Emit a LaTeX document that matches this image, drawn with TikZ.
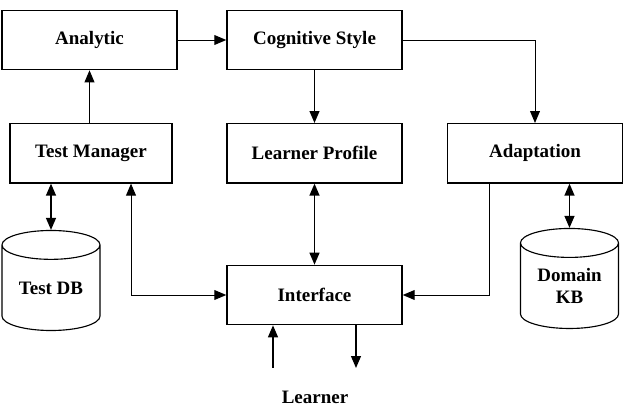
\documentclass[tikz,border=0pt]{standalone}
\usepackage{fontspec}
\setmainfont{Liberation Serif}
\usetikzlibrary{positioning}
\usetikzlibrary{arrows.meta}
\usetikzlibrary{shapes.geometric}

\begin{document}
\begin{tikzpicture}[x=0.025cm,y=-0.025cm,
    font=\bfseries\fontsize{13.5}{16}\selectfont,
    box/.style={draw,line width=1pt,minimum width=4.375cm,minimum height=1.48cm,inner sep=0pt},
    db/.style={draw,line width=0.8pt,cylinder,shape border rotate=90,aspect=0.45,
      minimum width=2.45cm,minimum height=2.5cm,inner sep=0pt,align=center},
    tip/.style={-{Triangle[length=8.5pt,width=7pt]}},
    dbl/.style={{Triangle[length=8.5pt,width=7pt]}-{Triangle[length=8.5pt,width=7pt]}},
    thinline/.style={line width=0.7pt},
    thickline/.style={line width=1.1pt}]
  \useasboundingbox (0,0) rectangle (627,406);

  \node [box]                      (ana) at (89.5,40)   {Analytic};
  \node [box]                      (cog) at (314.5,40)  {Cognitive Style};
  \node [box,minimum width=4.05cm] (tm)  at (91,153.3)  {Test Manager};
  \node [box]                      (lp)  at (314.5,153.3) {Learner Profile};
  \node [box]                      (adp) at (535,153.3) {Adaptation};
  \node [box]                      (ifc) at (314.5,295) {Interface};
  \node [db]                       (tdb) at (51,288)    {Test DB};
  \node [db]                       (dkb) at (569.5,286) {Domain\\KB};
  \node                            (lrn) at (315,397)   {Learner};

  \coordinate (lin)  at (273,368);
  \coordinate (lout) at (356,368);

  \draw [tip,thinline]  (ana) -- (cog);
  \draw [tip,thinline]  (tm.north -| ana) -- (ana.south);
  \draw [tip,thickline] (cog) -- (lp);
  \draw [tip,thinline]  (cog.east) -| (adp.north);
  \draw [dbl,thickline] (tdb.north |- tm.south) -- (tdb.north);
  \draw [dbl,thinline]  ([xshift=1cm]tm.south) |- (ifc.west);
  \draw [dbl,thickline] (lp) -- (ifc);
  \draw [tip,thinline]  ([xshift=-1.125cm]adp.south) |- (ifc.east);
  \draw [dbl,thickline] (dkb.north |- adp.south) -- (dkb.north);
  \draw [tip,thickline] (lin) -- (lin |- ifc.south);
  \draw [tip,thickline] (lout |- ifc.south) -- (lout);
\end{tikzpicture}
\end{document}
